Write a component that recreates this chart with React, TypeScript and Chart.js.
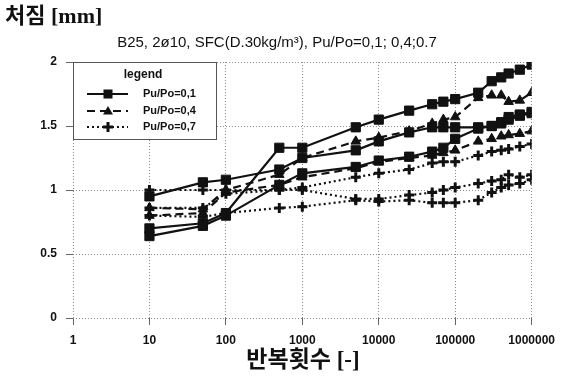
import React, { useEffect, useRef } from "react";
import { Chart, registerables } from "chart.js";

Chart.register(...registerables);

// ---- data ----
const cycles = [10, 50, 100, 500, 1000, 5000, 10000, 25000, 50000, 70000, 100000, 200000, 300000, 400000, 500000, 700000, 1000000];

// Pu/Po = 0,1 (solid, squares)
const p01a = [0.70, 0.74, 0.82, 1.33, 1.33, 1.49, 1.55, 1.62, 1.67, 1.69, 1.71, 1.76, 1.85, 1.88, 1.91, 1.94, 1.98];
const p01b = [0.95, 1.06, 1.08, 1.16, 1.25, 1.31, 1.38, 1.45, 1.49, 1.49, 1.49, 1.49, 1.50, 1.52, 1.57, 1.59, 1.61];
const p01c = [0.64, 0.72, 0.80, 1.04, 1.13, 1.18, 1.23, 1.26, 1.30, 1.33, 1.40, 1.48, 1.50, 1.53, 1.55, 1.58, 1.60];
// Pu/Po = 0,4 (dashed, triangles)
const p04a = [0.86, 0.85, 1.00, 1.12, 1.25, 1.38, 1.41, 1.46, 1.52, 1.55, 1.57, 1.72, 1.74, 1.74, 1.69, 1.70, 1.76];
const p04b = [0.80, 0.82, 0.98, 1.04, 1.10, 1.17, 1.22, 1.25, 1.27, 1.29, 1.31, 1.38, 1.40, 1.42, 1.43, 1.44, 1.46];
// Pu/Po = 0,7 (dotted, crosses)
const p07a = [1.00, 1.00, 1.00, 1.00, 1.02, 1.10, 1.13, 1.16, 1.21, 1.22, 1.22, 1.27, 1.30, 1.31, 1.32, 1.34, 1.36];
const p07b = [0.80, 0.79, 0.82, 0.86, 0.87, 0.92, 0.91, 0.92, 0.90, 0.90, 0.90, 0.92, 0.98, 1.02, 1.04, 1.05, 1.08];
const p07c = [0.86, 0.86, 0.97, 1.00, 1.00, 0.93, 0.93, 0.96, 0.98, 1.00, 1.02, 1.05, 1.07, 1.08, 1.12, 1.10, 1.12];

const xTicks = [1, 10, 100, 1000, 10000, 100000, 1000000];
const yTicks = [0, 0.5, 1, 1.5, 2];
const legendLabels = ["Pu/Po=0,1", "Pu/Po=0,4", "Pu/Po=0,7"];
const legendTitle = "legend";
const yTitle = "처짐 [mm]";
const subTitle = "B25, 2ø10, SFC(D.30kg/m³), Pu/Po=0,1; 0,4;0.7";
const xTitle = "반복횟수 [-]";

const INK = "#111";

type Kind = 0 | 1 | 2;
const styleOf = (k: Kind) => {
  if (k === 0) return { borderDash: [] as number[], pointStyle: "rect", pointRadius: 6.5, pointBorderWidth: 1 };
  if (k === 1) return { borderDash: [8, 5], pointStyle: "triangle", pointRadius: 5.5, pointBorderWidth: 1 };
  return { borderDash: [2, 3], pointStyle: "cross", pointRadius: 5, pointBorderWidth: 3 };
};

const mk = (vals: (number | null)[], k: Kind) => {
  const s = styleOf(k);
  return {
    data: cycles.map((c, i) => ({ x: c, y: vals[i] })).filter((p) => p.y !== null),
    borderColor: INK,
    backgroundColor: INK,
    pointBackgroundColor: INK,
    pointBorderColor: INK,
    borderWidth: 2.2,
    borderDash: s.borderDash,
    pointStyle: s.pointStyle as any,
    pointRadius: s.pointRadius,
    pointBorderWidth: s.pointBorderWidth,
    tension: 0,
  };
};

const drawMarker = (ctx: CanvasRenderingContext2D, k: Kind, x: number, y: number) => {
  ctx.fillStyle = INK;
  ctx.strokeStyle = INK;
  ctx.setLineDash([]);
  if (k === 0) {
    ctx.fillRect(x - 4.5, y - 4.5, 9, 9);
  } else if (k === 1) {
    ctx.beginPath();
    ctx.moveTo(x, y - 5);
    ctx.lineTo(x + 5, y + 3.5);
    ctx.lineTo(x - 5, y + 3.5);
    ctx.closePath();
    ctx.fill();
  } else {
    ctx.lineWidth = 3;
    ctx.beginPath();
    ctx.moveTo(x - 5, y);
    ctx.lineTo(x + 5, y);
    ctx.moveTo(x, y - 5);
    ctx.lineTo(x, y + 5);
    ctx.stroke();
  }
};

const overlay = {
  id: "overlay",
  afterDraw(chart: any) {
    const ctx: CanvasRenderingContext2D = chart.ctx;
    const area = chart.chartArea;
    ctx.save();
    ctx.fillStyle = INK;
    ctx.textBaseline = "middle";
    ctx.textAlign = "left";
    ctx.font = 'bold 22px "Liberation Serif", "Noto Sans CJK KR"';
    ctx.fillText(yTitle, 5, 17);
    ctx.textAlign = "center";
    ctx.font = '15px "Liberation Sans", Arial';
    ctx.fillText(subTitle, 277, 43);
    ctx.font = 'bold 23px "Liberation Serif", "Noto Sans CJK KR"';
    ctx.fillText(xTitle, 303, 361);

    // legend box
    const bx = area.left, by = area.top, bw = 143, bh = 77;
    ctx.fillStyle = "#fff";
    ctx.fillRect(bx, by, bw, bh);
    ctx.strokeStyle = "#555";
    ctx.lineWidth = 1;
    ctx.setLineDash([]);
    ctx.strokeRect(bx + 0.5, by + 0.5, bw, bh);
    ctx.fillStyle = INK;
    ctx.textAlign = "center";
    ctx.font = 'bold 12px "Liberation Sans", Arial';
    ctx.fillText(legendTitle, bx + 70, by + 13);
    const rows = [by + 32, by + 49, by + 65];
    legendLabels.forEach((lab, i) => {
      const k = i as Kind;
      const s = styleOf(k);
      const y = rows[i];
      ctx.strokeStyle = INK;
      ctx.lineWidth = 2;
      ctx.setLineDash(s.borderDash);
      ctx.beginPath();
      ctx.moveTo(bx + 14, y);
      ctx.lineTo(bx + 55, y);
      ctx.stroke();
      drawMarker(ctx, k, bx + 35, y);
      ctx.fillStyle = INK;
      ctx.textAlign = "left";
      ctx.font = 'bold 11px "Liberation Sans", Arial';
      ctx.fillText(lab, bx + 70, y);
    });
    ctx.restore();
  },
};

export default function App() {
  const ref = useRef<HTMLCanvasElement | null>(null);
  useEffect(() => {
    if (!ref.current) return;
    const grid = {
      color: "#8a8a8a",
      lineWidth: 1,
      drawTicks: true,
      tickLength: 7,
      tickColor: "#666",
      tickBorderDash: [] as number[],
    };
    const chart = new Chart(ref.current, {
      type: "line",
      data: {
        datasets: [
          mk(p01a, 0), mk(p01b, 0), mk(p01c, 0),
          mk(p04a, 1), mk(p04b, 1),
          mk(p07a, 2), mk(p07b, 2), mk(p07c, 2),
        ] as any,
      },
      options: {
        animation: false,
        responsive: false,
        maintainAspectRatio: false,
        layout: { padding: { top: 62, right: 30, left: 0, bottom: 0 } },
        plugins: { legend: { display: false }, tooltip: { enabled: false }, title: { display: false } },
        scales: {
          x: {
            type: "logarithmic",
            min: 1,
            max: 1000000,
            grid,
            border: { display: false, dash: [1, 2] },
            afterBuildTicks: (s: any) => {
              s.ticks = xTicks.map((v) => ({ value: v }));
            },
            afterFit: (s: any) => {
              s.height = 65;
            },
            ticks: {
              autoSkip: false,
              maxRotation: 0,
              padding: 8,
              color: INK,
              font: { family: '"Liberation Sans", Arial', size: 12, weight: "bold" },
              callback: (v: any) => String(v),
            },
          },
          y: {
            min: 0,
            max: 2,
            grid,
            border: { display: false, dash: [1, 2] },
            afterBuildTicks: (s: any) => {
              s.ticks = yTicks.map((v) => ({ value: v }));
            },
            afterFit: (s: any) => {
              s.width = 73;
            },
            ticks: {
              padding: 9,
              color: INK,
              font: { family: '"Liberation Sans", Arial', size: 12, weight: "bold" },
              callback: (v: any) => String(v),
            },
          },
        },
      } as any,
      plugins: [overlay],
    });
    return () => chart.destroy();
  }, []);
  return (
    <div style={{ position: "fixed", left: 0, top: 0, width: 563, height: 383, background: "#fff" }}>
      <canvas ref={ref} width={563} height={383} style={{ width: 563, height: 383 }} />
    </div>
  );
}
